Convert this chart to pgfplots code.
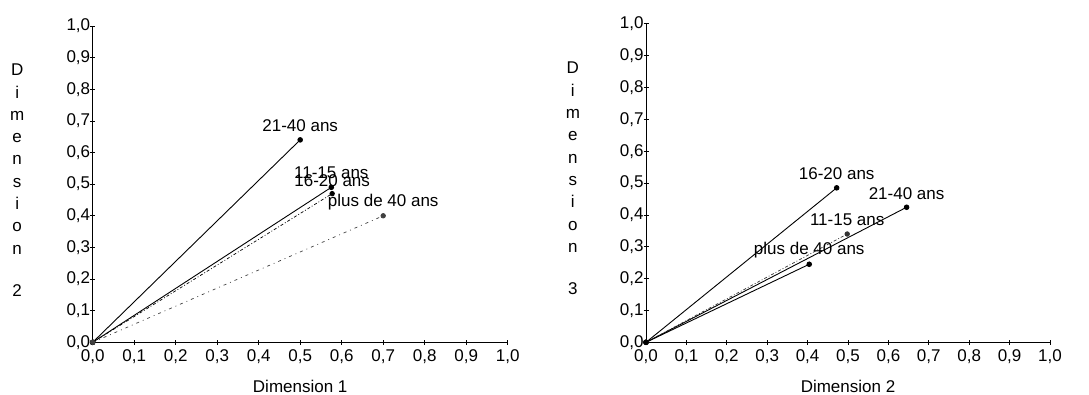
\documentclass[border=0pt]{standalone}
\usepackage{fontspec}
\setmainfont{Liberation Sans}
\usepackage{pgfplots}
\pgfplotsset{compat=1.18}
\pgfplotsset{
  myax/.style={
    scale only axis, clip=false, anchor=south west,
    xmin=0, xmax=1, ymin=0, ymax=1,
    axis lines=left, axis line style={-, line width=0.8pt},
    xtick={0,0.1,0.2,0.3,0.4,0.5,0.6,0.7,0.8,0.9,1},
    ytick={0,0.1,0.2,0.3,0.4,0.5,0.6,0.7,0.8,0.9,1},
    tick align=center, major tick length=5pt,
    tick style={black, line width=0.7pt},
    font=\fontsize{17}{20}\selectfont,
    yticklabel style={xshift=3.5pt},
    xticklabel style={yshift=-1pt},
    xlabel style={at={(axis description cs:0.5,0)}, anchor=center, yshift=-44pt},
    /pgf/number format/.cd, use comma, fixed, fixed zerofill, precision=1, assume math mode=true,
    /pgfplots/.cd
  },
  pt/.style={black, line width=0.9pt, mark=*, mark size=2.3pt, mark options={solid}},
}
\newcommand{\vlab}[1]{{\fontsize{17}{22.3}\selectfont\begin{tabular}{@{}c@{}}D\\i\\m\\e\\n\\s\\i\\o\\n\\[20pt]#1\end{tabular}}}
\begin{document}
\begin{tikzpicture}
\path[use as bounding box] (0pt,0pt) rectangle (1089pt,394pt);
\begin{axis}[myax, at={(92.7pt,51.7pt)}, width=415pt, height=316.3pt,
  xlabel={Dimension 1},
  ylabel={\vlab{2}},
  ylabel style={rotate=-90, at={(axis description cs:-0.182,0.508)}, anchor=center}]
\addplot[pt] coordinates {(0,0) (0.50,0.64)} node[yshift=14pt] {21-40 ans};
\addplot[pt] coordinates {(0,0) (0.575,0.49)} node[yshift=15pt] {11-15 ans};
\addplot[pt, dashdotted, line width=0.7pt] coordinates {(0,0) (0.577,0.47)} node[yshift=13pt] {16-20 ans};
\addplot[pt, loosely dashdotted, line width=0.7pt, black!75] coordinates {(0,0) (0.70,0.40)} node[black, yshift=14pt] {plus de 40 ans};
\end{axis}
\begin{axis}[myax, at={(646pt,51.7pt)}, width=404pt, height=318.5pt,
  xlabel={Dimension 2},
  ylabel={\vlab{3}},
  ylabel style={rotate=-90, at={(axis description cs:-0.181,0.51)}, anchor=center}]
\addplot[pt] coordinates {(0,0) (0.472,0.485)} node[yshift=14pt] {16-20 ans};
\addplot[pt] coordinates {(0,0) (0.645,0.424)} node[yshift=14pt] {21-40 ans};
\addplot[pt, dashdotted, line width=0.7pt, black!80] coordinates {(0,0) (0.498,0.34)} node[black, yshift=14pt] {11-15 ans};
\addplot[pt] coordinates {(0,0) (0.404,0.245)} node[yshift=14pt] {plus de 40 ans};
\end{axis}
\end{tikzpicture}
\end{document}
